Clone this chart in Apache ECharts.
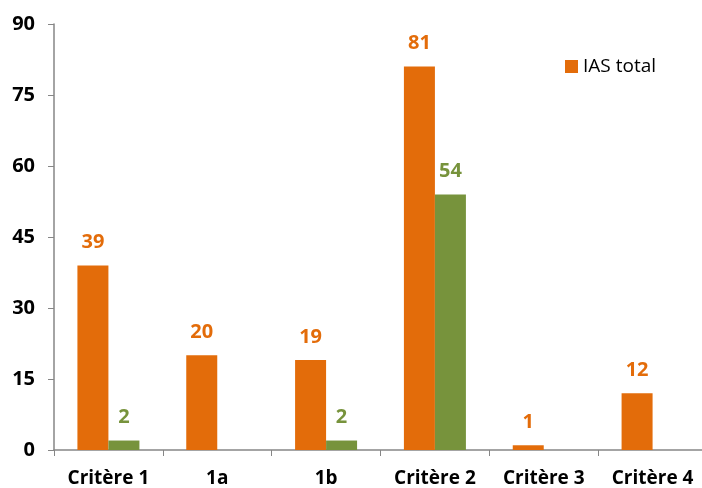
<!DOCTYPE html>
<html><head><meta charset="utf-8">
<script src="https://cdn.jsdelivr.net/npm/echarts@6/dist/echarts.min.js"></script>
<style>html,body{margin:0;padding:0;background:#fff;overflow:hidden}#c{width:707px;height:488px}</style>
</head><body><div id="c"></div>
<script>
const categories = ['Critère 1', '1a', '1b', 'Critère 2', 'Critère 3', 'Critère 4'];
const iasTotal = [39, 20, 19, 81, 1, 12];
const second = [2, null, 2, 54, null, null];
const yTicks = [0, 15, 30, 45, 60, 75, 90];

const font = '"Open Sans", "Noto Sans", sans-serif';
const chart = echarts.init(document.getElementById('c'));
chart.setOption({
  animation: false,
  grid: { left: 54, right: 0, top: 24, bottom: 38, containLabel: false },
  legend: {
    data: ['IAS total'], left: 560, top: 52, itemWidth: 13, itemHeight: 13, itemGap: 5,
    icon: 'rect',
    textStyle: { fontFamily: font, fontSize: 19, color: '#000' }
  },
  xAxis: {
    type: 'category', data: categories,
    axisLine: { lineStyle: { color: '#868686', width: 1.5 } },
    axisTick: { show: true, length: 6, alignWithLabel: false, lineStyle: { color: '#868686' } },
    axisLabel: { fontFamily: font, fontSize: 19, fontWeight: 'bold', color: '#000', margin: 19, interval: 0 }
  },
  yAxis: {
    type: 'value', min: yTicks[0], max: yTicks[yTicks.length - 1], interval: 15,
    splitLine: { show: false },
    axisLine: { show: true, lineStyle: { color: '#868686', width: 1.5 } },
    axisTick: { show: true, length: 6, inside: false, lineStyle: { color: '#868686' } },
    axisLabel: { fontFamily: font, fontSize: 20, fontWeight: 'bold', color: '#000', margin: 19 }
  },
  series: [
    {
      name: 'IAS total', type: 'bar', data: iasTotal, barWidth: 31, barGap: '0%',
      itemStyle: { color: '#E36C0A' },
      label: { show: true, position: 'top', distance: 13, fontFamily: font, fontSize: 20, fontWeight: 'bold', color: '#E36C0A' }
    },
    {
      name: 'Autre', type: 'bar', data: second, barWidth: 31, barGap: '0%',
      itemStyle: { color: '#77933C' },
      label: { show: true, position: 'top', distance: 13, fontFamily: font, fontSize: 20, fontWeight: 'bold', color: '#77933C' }
    }
  ]
});
</script></body></html>
